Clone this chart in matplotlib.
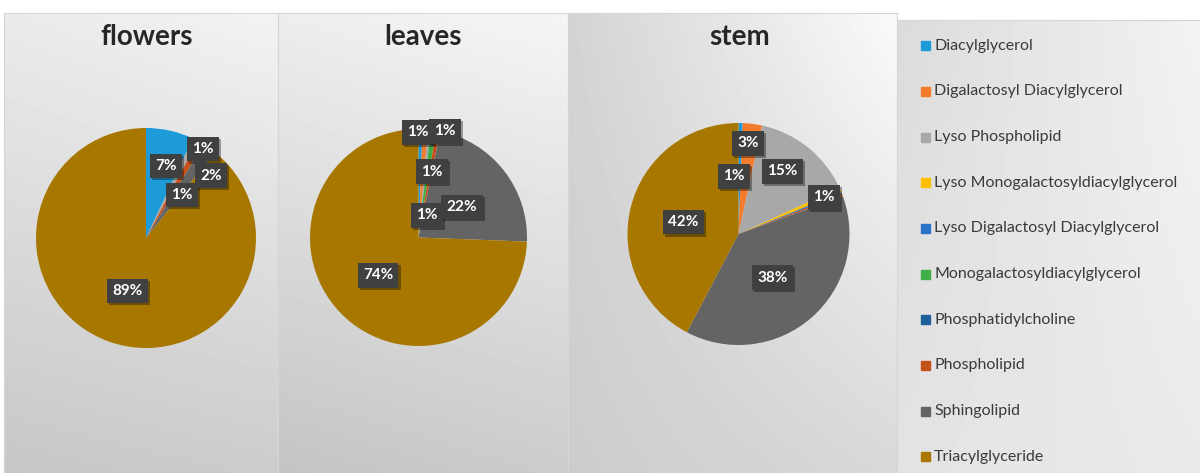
import matplotlib

matplotlib.use("Agg")
import matplotlib.patheffects as pe
import matplotlib.pyplot as plt
import numpy as np
from matplotlib.patches import Rectangle

plt.rcParams["font.family"] = ["Lato", "DejaVu Sans"]

W, H = 1200, 473

categories = [
    "Diacylglycerol",
    "Digalactosyl Diacylglycerol",
    "Lyso Phospholipid",
    "Lyso Monogalactosyldiacylglycerol",
    "Lyso Digalactosyl Diacylglycerol",
    "Monogalactosyldiacylglycerol",
    "Phosphatidylcholine",
    "Phospholipid",
    "Sphingolipid",
    "Triacylglyceride",
]
colors = [
    "#1d9bd8", "#f47b2b", "#a8a8a8", "#ffc000", "#2a72c6",
    "#3fae49", "#1f5f99", "#c4501a", "#646464", "#a87700",
]

# share of each lipid class per plant part (%)
parts = ["flowers", "leaves", "stem"]
flowers_pct = [7.0, 0.0, 0.8, 0.0, 0.0, 0.0, 0.0, 1.0, 2.0, 89.2]
leaves_pct = [0.6, 0.8, 0.4, 0.0, 0.0, 0.8, 0.0, 0.6, 22.4, 74.4]
stem_pct = [0.6, 2.8, 14.8, 0.7, 0.3, 0.0, 0.0, 0.3, 38.2, 42.3]
part_values = [flowers_pct, leaves_pct, stem_pct]

# label nudges: category index -> (clockwise degrees from wedge middle, radius fraction)
label_nudge = [
    {0: (3, 0.68), 2: (6, 0.96), 7: (10, 0.51), 8: (11, 0.82), 9: (0, 0.51)},
    {0: (-1.4, 0.97), 1: (17, 0.22), 5: (3.7, 0.62), 7: (3.6, 1.01),
     8: (3, 0.49), 9: (1, 0.51)},
    {0: (-5.6, 0.52), 1: (-1.2, 0.82), 2: (-3.7, 0.69), 3: (0, 0.84),
     8: (3, 0.50), 9: (-1.7, 0.51)},
]

# panel layout in pixels: (x0, y0, x1, y1), corner greys (tl, tr, bl, br)
panels = [
    ((4, 13, 278, 473), (0.92, 0.95, 0.78, 0.80)),
    ((278, 13, 568, 473), (0.93, 0.96, 0.77, 0.80)),
    ((568, 13, 897, 473), (0.83, 0.98, 0.80, 0.85)),
    ((897, 20, 1200, 473), (0.86, 0.95, 0.89, 0.92)),
]
pie_centers = [(146, 238, 110), (418.5, 237.5, 108.5), (738.5, 234, 111)]
title_x = [147, 423, 740]


def px_rect(x0, y0, x1, y1):
    return [x0 / W, 1 - y1 / H, (x1 - x0) / W, (y1 - y0) / H]


def gradient(corners, n=64):
    tl, tr, bl, br = corners
    u = np.linspace(0, 1, n)[None, :]
    v = np.linspace(0, 1, n)[:, None]
    top = tl + (tr - tl) * u
    bottom = bl + (br - bl) * u
    return top + (bottom - top) * v


fig = plt.figure(figsize=(W / 100, H / 100), dpi=100)
fig.patch.set_facecolor("white")

for (x0, y0, x1, y1), corners in panels:
    bg = fig.add_axes(px_rect(x0, y0, x1, y1))
    bg.imshow(gradient(corners), cmap="gray", vmin=0, vmax=1,
              aspect="auto", interpolation="bilinear", extent=(0, 1, 0, 1))
    bg.set_xticks([])
    bg.set_yticks([])
    for spine in bg.spines.values():
        spine.set_color("#d6d6d6")
        spine.set_linewidth(0.8)

box_shadow = [pe.SimplePatchShadow(offset=(1.5, -1.5), shadow_rgbFace="#000000",
                                   alpha=0.35), pe.Normal()]

for k, part in enumerate(parts):
    fig.text(title_x[k] / W, 1 - 37 / H, part,
             ha="center", va="center", fontsize=20, fontweight="bold",
             color="#262626")

    cx, cy, r = pie_centers[k]
    ax = fig.add_axes(px_rect(cx - r, cy - r, cx + r, cy + r))
    vals = part_values[k]
    keep = [i for i, v in enumerate(vals) if v > 0]
    wedges, _ = ax.pie([vals[i] for i in keep],
                       colors=[colors[i] for i in keep],
                       startangle=90, counterclock=False, radius=1,
                       wedgeprops=dict(linewidth=0))
    ax.set_xlim(-1, 1)
    ax.set_ylim(-1, 1)
    ax.patch.set_visible(False)

    total = sum(vals)
    for w, i in zip(wedges, keep):
        pct = vals[i] / total * 100
        if round(pct) < 1:
            continue
        off, rad = label_nudge[k].get(i, (0, 0.55))
        mid = np.deg2rad((w.theta1 + w.theta2) / 2 - off)
        t = ax.text(rad * np.cos(mid), rad * np.sin(mid), f"{round(pct)}%",
                    ha="center", va="center", fontsize=11, fontweight="bold",
                    color="white", zorder=5, clip_on=False,
                    bbox=dict(boxstyle="square,pad=0.35", fc="#404040", ec="none"))
        t.get_bbox_patch().set_path_effects(box_shadow)

# legend drawn in pixel space over its own panel
leg = fig.add_axes(px_rect(897, 20, 1200, 473))
leg.set_xlim(897, 1200)
leg.set_ylim(473, 20)
leg.axis("off")
for i, (name, c) in enumerate(zip(categories, colors)):
    y = 45.7 + i * 45.67
    leg.add_patch(Rectangle((920.5, y - 4.5), 9, 9, color=c))
    leg.text(934, y, name, ha="left", va="center", fontsize=11.5, color="#3a3a3a")

fig.savefig("out.png", dpi=100)
